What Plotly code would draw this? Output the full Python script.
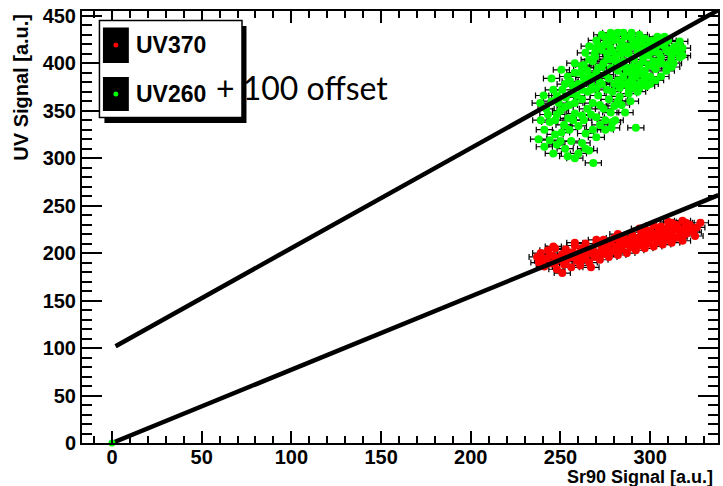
import plotly.graph_objects as go

# --- data -------------------------------------------------------------
# UV370 measurements vs Sr90 reference signal
sr90_uv370 = [237, 238, 239, 241, 242, 243, 245, 246, 247, 248, 249, 251, 251, 252, 253, 255, 256,
              257, 258, 259, 260, 261, 262, 263, 264, 265, 266, 267, 268, 269, 270, 271, 272, 273, 274, 275,
              276, 277, 278, 279, 280, 281, 282, 283, 284, 285, 286, 287, 288, 289, 290, 291, 292, 293, 294, 295,
              296, 297, 298, 299, 300, 301, 302, 303, 304, 305, 306, 307, 308, 309, 310, 311, 312, 313, 314, 315,
              316, 317, 318, 319, 320, 322, 323, 325, 326, 328,
              240, 244, 247, 250, 253, 257, 261, 264, 268, 272, 276, 280, 284, 288, 292, 296, 300, 304, 308, 312,
              316, 320, 324, 298, 286, 274, 262, 254, 306, 312,
              302, 310, 318, 322, 314, 294, 282, 270, 258, 246]
uv370 = [196, 190, 200, 186, 194, 203, 189, 197, 205, 183, 193, 199, 179, 188, 204, 195, 185,
         201, 208, 192, 198, 187, 205, 195, 210, 200, 190, 185, 204, 196, 210, 200, 193, 207, 214, 199,
         205, 196, 211, 202, 216, 207, 198, 212, 204, 218, 209, 200, 214, 206, 219, 211, 203, 216, 208, 222,
         213, 205, 218, 210, 223, 215, 207, 220, 212, 225, 217, 209, 222, 214, 227, 219, 211, 224, 216, 229,
         217, 222, 213, 226, 220, 230, 224, 218, 227, 232,
         192, 198, 190, 196, 191, 196, 201, 196, 199, 201, 209, 203, 209, 211, 208, 218, 217, 221, 218, 222,
         224, 232, 222, 224, 214, 203, 193, 199, 228, 232,
         229, 233, 234, 226, 230, 226, 220, 214, 211, 207]

# UV260 measurements (shifted up by 100) vs Sr90 reference signal
sr90_uv260 = [237.8, 238.7, 240.6, 244, 245, 246, 248, 249, 250.5, 250.6, 252.6, 252.6, 252.6, 254.4, 255.4,
              258, 258, 258, 258, 260, 261.8, 263.9, 268.3, 269.3, 269.4, 273, 275, 276.7, 278, 278.5, 280.5,
              282, 289.6, 289, 292, 293, 306, 311.7, 312.8, 316.5, 316.5,
              272, 275, 278, 281, 284, 287, 290, 293, 296, 299, 302, 300, 297, 294, 286, 280, 283, 288, 291, 294,
              297, 300, 303, 305, 308, 310, 304, 276, 279, 282, 285, 288, 291, 286, 289, 292, 295, 298, 274, 271,
              277, 280, 283, 270, 267, 265, 268, 285, 290, 296, 302, 306, 310, 314, 308, 318,
              262, 265, 268, 271, 274, 277, 280, 283, 286, 262, 265, 270, 275, 284, 288, 260, 263, 256, 253, 248,
              244, 241, 247, 255, 260, 264, 256, 262, 266, 270, 275,
              266, 270, 273, 277, 281, 285, 289, 292, 295, 298, 301, 303, 306, 309, 312, 315, 318, 313, 309, 305,
              302, 299, 296, 293, 290, 287, 284, 281, 278, 275, 272, 269, 266, 263, 261, 264, 267, 270, 273, 276,
              279, 282, 285, 288, 291, 294, 297, 300, 303, 306, 309, 312, 284, 287, 290, 293, 296, 299, 302, 305,
              279, 276, 273, 270, 267,
              242, 245, 248, 251, 254, 257, 259, 262, 250, 255, 258, 247, 252, 257, 243, 239, 241, 246, 250, 254,
              263, 267, 272, 278, 282, 279, 268, 264, 272]
uv260 = [320, 358, 366, 319, 384, 372, 314, 358, 393, 327, 354, 310, 378, 342, 381,
         300, 347, 390, 400, 305, 397, 411, 295, 407, 416, 414, 427, 421, 432, 332, 340,
         432, 432, 360, 332, 370, 400, 404, 416, 423, 406,
         380, 388, 395, 402, 410, 418, 425, 420, 414, 408, 402, 420, 426, 430, 428, 424, 416, 410, 404, 398,
         392, 386, 394, 410, 418, 424, 428, 410, 404, 392, 386, 380, 374, 396, 390, 386, 380, 376, 400, 395,
         384, 378, 374, 386, 380, 392, 402, 402, 396, 402, 412, 406, 412, 418, 428, 416,
         362, 370, 358, 366, 352, 362, 355, 365, 348, 345, 352, 343, 340, 356, 368, 378, 385, 368, 364, 346,
         338, 330, 325, 330, 334, 326, 318, 316, 308, 322, 330,
         418, 424, 430, 428, 426, 432, 428, 424, 422, 418, 424, 416, 420, 414, 408, 412, 408, 400, 398, 402,
         396, 398, 388, 392, 384, 392, 398, 408, 416, 420, 418, 410, 404, 398, 390, 380, 372, 374, 378, 372,
         370, 382, 378, 374, 378, 374, 384, 378, 382, 386, 392, 396, 422, 414, 418, 412, 408, 414, 420, 424,
         412, 404, 396, 390, 386,
         352, 360, 366, 372, 386, 376, 366, 372, 350, 356, 358, 340, 335, 340, 346, 340, 312, 305, 318, 302,
         340, 346, 356, 348, 360, 338, 330, 310, 335]

# horizontal uncertainty on the Sr90 signal
sr90_err = 4.5

# linear fits (end points over the drawn x range)
fit_x_uv370 = [0, 338]
fit_y_uv370 = [0, 261]
fit_x_uv260 = [2, 338]
fit_y_uv260 = [102, 456]

# --- figure geometry ----------------------------------------------------
W, H = 723, 486
ML, MR, MT, MB = 82, 3, 11, 43
PW, PH = W - ML - MR, H - MT - MB


def px(xp):
    return (xp - ML) / PW


def py(yp):
    return (H - MB - yp) / PH


FONT = "Liberation Sans, Arial, Helvetica, sans-serif"

fig = go.Figure()

fig.add_trace(go.Scatter(
    x=sr90_uv370, y=uv370, mode="markers",
    marker=dict(color="#ff0000", size=8),
    error_x=dict(type="constant", value=sr90_err, color="black", thickness=1.2, width=3),
    showlegend=False))

fig.add_trace(go.Scatter(
    x=sr90_uv260, y=uv260, mode="markers",
    marker=dict(color="#00ff00", size=8),
    error_x=dict(type="constant", value=sr90_err, color="black", thickness=1.2, width=3),
    showlegend=False))

fig.add_trace(go.Scatter(x=fit_x_uv370, y=fit_y_uv370, mode="lines",
                         line=dict(color="black", width=4.5), showlegend=False))
fig.add_trace(go.Scatter(x=fit_x_uv260, y=fit_y_uv260, mode="lines",
                         line=dict(color="black", width=4.5), showlegend=False))

# lone point at the origin
fig.add_trace(go.Scatter(x=[0], y=[0], mode="markers", cliponaxis=False,
                         marker=dict(color="#00ff00", size=7), showlegend=False))

axis_common = dict(
    showline=True, linecolor="black", linewidth=2, mirror="allticks",
    showgrid=False, zeroline=False, ticks="inside", tickcolor="black", tickwidth=1.5,
    tickfont=dict(family=FONT, size=20, color="black", weight="bold"),
)

fig.update_xaxes(range=[-16.7, 337.8], tick0=0, dtick=50, ticklen=12, ticklabelstandoff=-5,
                 minor=dict(ticks="inside", dtick=10, ticklen=7, tickcolor="black", tickwidth=1.5),
                 **axis_common)
fig.update_yaxes(range=[0, 455], tick0=0, dtick=50, ticklen=20,
                 minor=dict(ticks="inside", dtick=10, ticklen=10, tickcolor="black", tickwidth=1.5),
                 **axis_common)

# legend box drawn by hand: shadow, frame, black swatches with coloured dots
shapes = [
    dict(type="rect", xref="paper", yref="paper", x0=px(104.5), x1=px(247), y0=py(123), y1=py(26),
         fillcolor="black", line=dict(width=0)),
    dict(type="rect", xref="paper", yref="paper", x0=px(99.5), x1=px(242.5), y0=py(117.5), y1=py(20.5),
         fillcolor="white", line=dict(color="black", width=1.5)),
    dict(type="rect", xref="paper", yref="paper", x0=px(103), x1=px(129), y0=py(63), y1=py(27.5),
         fillcolor="black", line=dict(width=0)),
    dict(type="rect", xref="paper", yref="paper", x0=px(103), x1=px(129), y0=py(111), y1=py(77),
         fillcolor="black", line=dict(width=0)),
    dict(type="circle", xref="paper", yref="paper", x0=px(113.5), x1=px(118.5), y0=py(47.5), y1=py(42.5),
         fillcolor="#ff0000", line=dict(width=0)),
    dict(type="circle", xref="paper", yref="paper", x0=px(113.5), x1=px(118.5), y0=py(96.5), y1=py(91.5),
         fillcolor="#00ff00", line=dict(width=0)),
]

annotations = [
    dict(text="UV370", xref="paper", yref="paper", x=px(134), y=py(45), xanchor="left", yanchor="middle",
         showarrow=False, font=dict(family=FONT, size=23, color="black", weight="bold")),
    dict(text="UV260", xref="paper", yref="paper", x=px(134), y=py(94), xanchor="left", yanchor="middle",
         showarrow=False, font=dict(family=FONT, size=23, color="black", weight="bold")),
    dict(text="+ 100 offset", xref="paper", yref="paper", x=px(214), y=py(88), xanchor="left",
         yanchor="middle", showarrow=False, font=dict(family="Lato, Open Sans, sans-serif", size=32,
                                                      color="black")),
    dict(text="Sr90 Signal [a.u.]", xref="paper", yref="paper", x=px(717), y=py(476.5), xanchor="right",
         yanchor="middle", showarrow=False, font=dict(family=FONT, size=18, color="black", weight="bold")),
    dict(text="UV Signal [a.u.]", xref="paper", yref="paper", x=px(21), y=py(12), xanchor="center",
         yanchor="top", textangle=-90, showarrow=False,
         font=dict(family=FONT, size=20, color="black", weight="bold")),
]

fig.update_layout(
    width=W, height=H,
    margin=dict(l=ML, r=MR, t=MT, b=MB, pad=0),
    paper_bgcolor="white", plot_bgcolor="white",
    shapes=shapes, annotations=annotations,
    showlegend=False,
)

fig.write_html("out.html")
